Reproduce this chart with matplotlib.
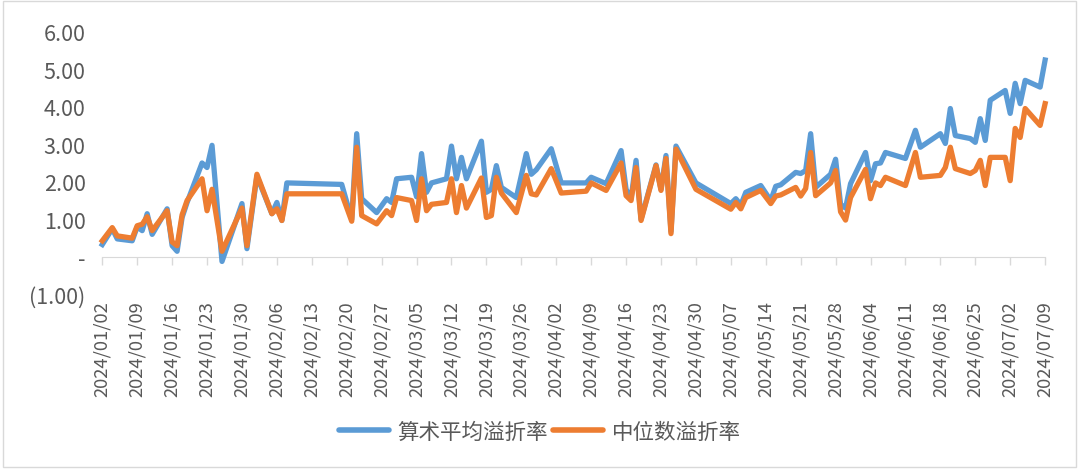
import pandas as pd
import numpy as np
import matplotlib
matplotlib.use("Agg")
import matplotlib.pyplot as plt
import matplotlib.dates as mdates
from matplotlib.lines import Line2D

plt.rcParams['font.family'] = ['Noto Sans CJK SC', 'DejaVu Sans']

# data
dates = [
    '2024-01-02', '2024-01-04', '2024-01-05', '2024-01-08', '2024-01-09', '2024-01-10',
    '2024-01-11', '2024-01-12', '2024-01-15', '2024-01-16', '2024-01-17', '2024-01-18',
    '2024-01-19', '2024-01-22', '2024-01-23', '2024-01-24', '2024-01-26', '2024-01-30',
    '2024-01-31', '2024-02-02', '2024-02-05', '2024-02-06', '2024-02-07', '2024-02-08',
    '2024-02-19', '2024-02-21', '2024-02-22', '2024-02-23', '2024-02-26', '2024-02-28',
    '2024-02-29', '2024-03-01', '2024-03-04', '2024-03-05', '2024-03-06', '2024-03-07',
    '2024-03-08', '2024-03-11', '2024-03-12', '2024-03-13', '2024-03-14', '2024-03-15',
    '2024-03-18', '2024-03-19', '2024-03-20', '2024-03-21', '2024-03-22', '2024-03-25',
    '2024-03-27', '2024-03-28', '2024-03-29', '2024-04-01', '2024-04-03', '2024-04-08',
    '2024-04-09', '2024-04-12', '2024-04-15', '2024-04-16', '2024-04-17', '2024-04-18',
    '2024-04-19', '2024-04-22', '2024-04-23', '2024-04-24', '2024-04-25', '2024-04-26',
    '2024-04-30', '2024-05-07', '2024-05-08', '2024-05-09', '2024-05-10', '2024-05-13',
    '2024-05-15', '2024-05-16', '2024-05-17', '2024-05-20', '2024-05-21', '2024-05-22',
    '2024-05-23', '2024-05-24', '2024-05-27', '2024-05-28', '2024-05-29', '2024-05-30',
    '2024-05-31', '2024-06-03', '2024-06-04', '2024-06-05', '2024-06-06', '2024-06-07',
    '2024-06-11', '2024-06-13', '2024-06-14', '2024-06-18', '2024-06-19', '2024-06-20',
    '2024-06-21', '2024-06-24', '2024-06-25', '2024-06-26', '2024-06-27', '2024-06-28',
    '2024-07-01', '2024-07-02', '2024-07-03', '2024-07-04', '2024-07-05', '2024-07-08',
    '2024-07-09',
]

mean_rate = [
    0.33, 0.75, 0.48, 0.43, 0.80, 0.70,
    1.15, 0.60, 1.28, 0.30, 0.15, 1.05,
    1.45, 2.50, 2.38, 2.97, -0.12, 1.42,
    0.22, 2.15, 1.15, 1.45, 0.97, 1.97,
    1.93, 1.00, 3.28, 1.55, 1.18, 1.55,
    1.45, 2.08, 2.12, 1.60, 2.75, 1.72,
    1.97, 2.08, 2.95, 2.08, 2.65, 2.08,
    3.08, 1.72, 1.80, 2.43, 1.85, 1.58,
    2.75, 2.20, 2.32, 2.88, 1.97, 1.97,
    2.12, 1.95, 2.83, 1.80, 1.55, 2.57,
    1.00, 2.45, 1.80, 2.70, 0.68, 2.95,
    1.97, 1.42, 1.55, 1.38, 1.72, 1.90,
    1.50, 1.88, 1.92, 2.25, 2.22, 2.30,
    3.28, 1.85, 2.20, 2.60, 1.40, 1.30,
    1.95, 2.78, 2.03, 2.48, 2.50, 2.78,
    2.62, 3.37, 2.92, 3.28, 3.02, 3.95,
    3.23, 3.15, 3.05, 3.68, 3.10, 4.17,
    4.43, 3.82, 4.62, 4.08, 4.70, 4.52,
    5.24,
]

median_rate = [
    0.43, 0.78, 0.56, 0.50, 0.83, 0.87,
    1.07, 0.70, 1.23, 0.40, 0.30, 1.12,
    1.50, 2.08, 1.23, 1.80, 0.15, 1.30,
    0.30, 2.20, 1.15, 1.28, 0.97, 1.68,
    1.68, 0.95, 2.92, 1.10, 0.88, 1.23,
    1.10, 1.58, 1.50, 0.97, 2.08, 1.23,
    1.40, 1.45, 2.08, 1.18, 1.90, 1.30,
    2.10, 1.05, 1.10, 2.12, 1.70, 1.18,
    2.17, 1.68, 1.65, 2.35, 1.70, 1.75,
    1.97, 1.77, 2.50, 1.63, 1.50, 2.38,
    0.97, 2.43, 1.77, 2.62, 0.62, 2.87,
    1.80, 1.27, 1.45, 1.28, 1.58, 1.77,
    1.42, 1.62, 1.65, 1.85, 1.62, 1.82,
    2.78, 1.63, 1.97, 2.30, 1.20, 0.98,
    1.58, 2.33, 1.55, 1.97, 1.90, 2.12,
    1.90, 2.78, 2.12, 2.17, 2.38, 2.92,
    2.35, 2.22, 2.30, 2.57, 1.90, 2.65,
    2.65, 2.03, 3.42, 3.18, 3.95, 3.50,
    4.08,
]

series_names = ['算术平均溢折率', '中位数溢折率']
colors = ['#5B9BD5', '#ED7D31']
text_color = '#595959'
axis_color = '#D9D9D9'

x = mdates.date2num(pd.to_datetime(dates))
start = mdates.date2num(pd.Timestamp('2024-01-02'))
end = mdates.date2num(pd.Timestamp('2024-07-09'))
week_ticks = mdates.date2num(pd.date_range('2024-01-02', '2024-07-09', freq='7D'))

fig = plt.figure(figsize=(10.8, 4.77), dpi=100)
ax = fig.add_axes([0.0947, 0.3805, 0.873, 0.5514])

ax.plot(x, mean_rate, color=colors[0], lw=3.8, solid_joinstyle='round', clip_on=False, zorder=3)
ax.plot(x, median_rate, color=colors[1], lw=3.8, solid_joinstyle='round', clip_on=False, zorder=4)

ax.set_xlim(start, end)
ax.set_ylim(-1, 6)
for s in ax.spines.values():
    s.set_visible(False)

ax.set_yticks(np.arange(-1, 7, 1))
def ylab(v, pos):
    if abs(v) < 1e-9:
        return '-'
    if v < 0:
        return '({:.2f})'.format(-v)
    return '{:.2f}'.format(v)
ax.yaxis.set_major_formatter(plt.FuncFormatter(ylab))
ax.tick_params(axis='y', length=0, pad=12, labelsize=15.5, labelcolor=text_color)

ax.set_xticks(week_ticks)
ax.xaxis.set_major_formatter(mdates.DateFormatter('%Y/%m/%d'))
ax.tick_params(axis='x', length=0, pad=4, labelsize=13.3, labelcolor=text_color, labelrotation=90)

# horizontal axis line drawn at zero with its tick marks
zero_axis = ax.secondary_xaxis(1 / 7)
zero_axis.set_xticks(week_ticks)
zero_axis.tick_params(axis='x', length=6, width=1, color=axis_color, labelbottom=False, labeltop=False)
for name, s in zero_axis.spines.items():
    s.set_visible(name == 'bottom')
zero_axis.spines['bottom'].set_color(axis_color)

handles = [Line2D([], [], color=c, lw=4, solid_capstyle='round') for c in colors]
fig.legend(handles, series_names, loc='center', bbox_to_anchor=(0.5, 1 - 433 / 477), ncol=2,
           frameon=False, fontsize=15.5, labelcolor=text_color, handlelength=2.3,
           handletextpad=0.4, columnspacing=0.25)

fig.add_artist(plt.Rectangle((3 / 1080, 9 / 477), 1073 / 1080, 466 / 477, transform=fig.transFigure,
                             fill=False, edgecolor=axis_color, lw=1))

fig.savefig('out.png', dpi=100)
